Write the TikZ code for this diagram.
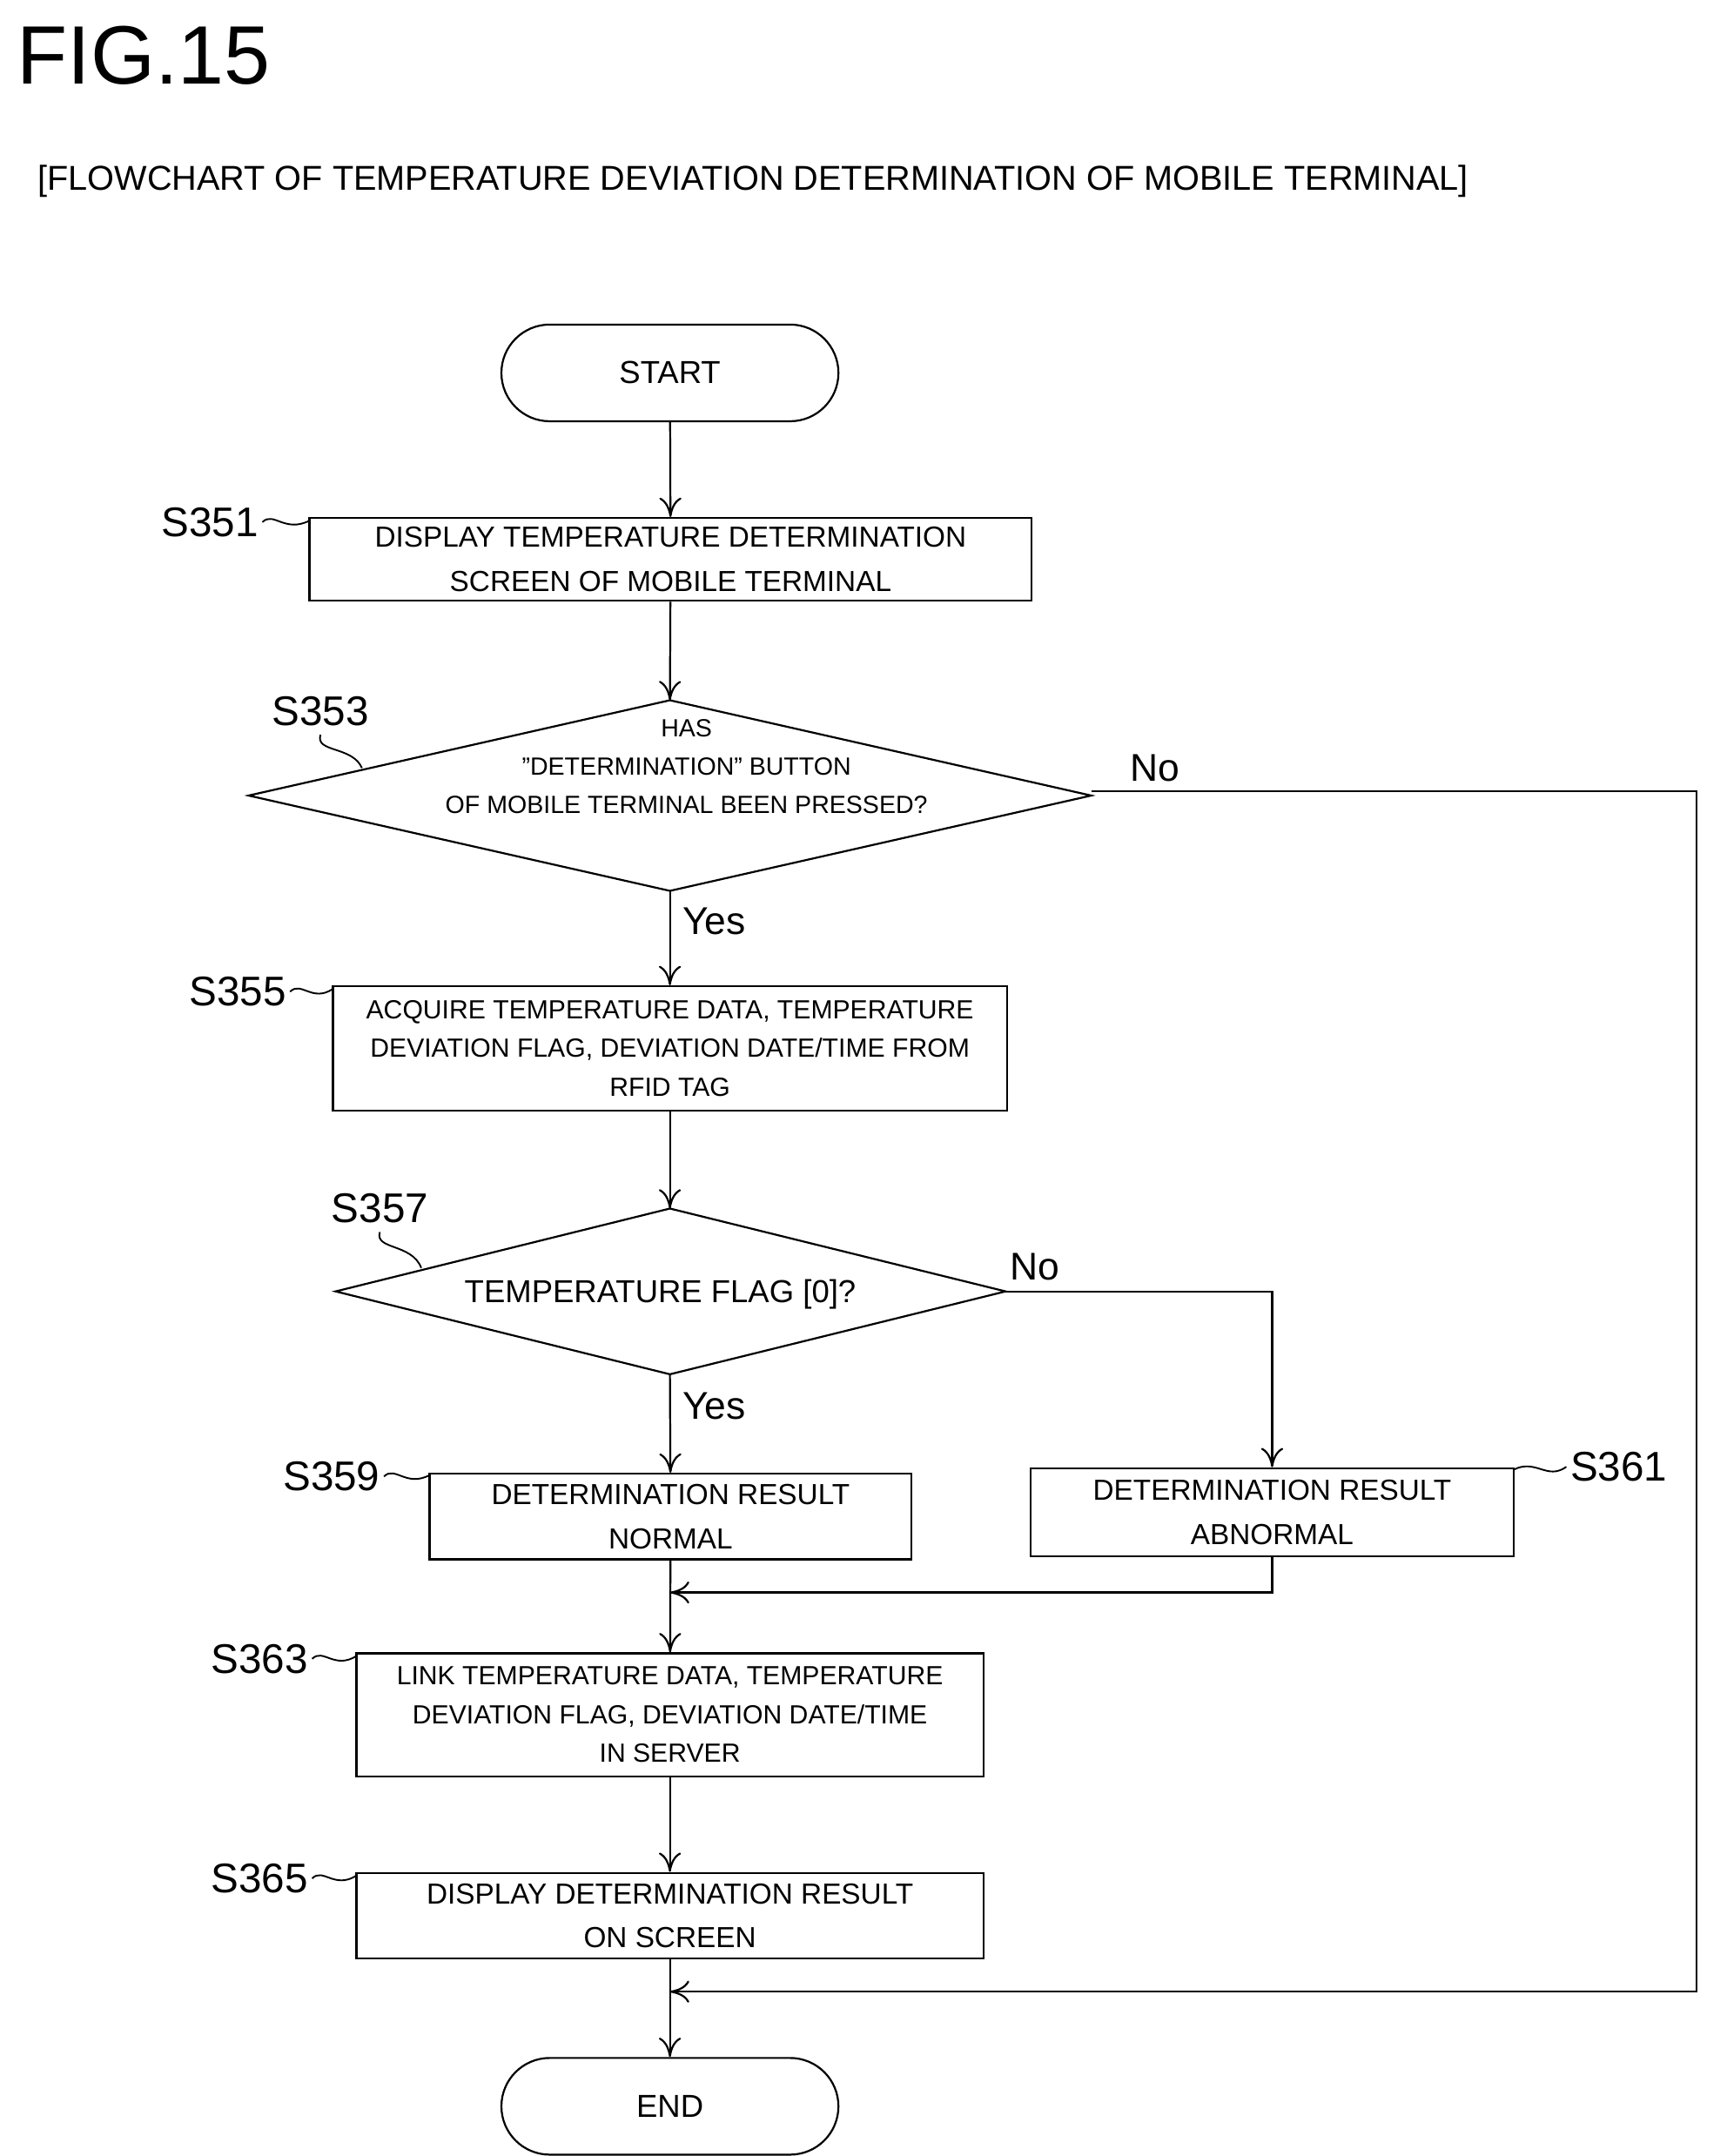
\documentclass[tikz,border=0pt]{standalone}
\usepackage{fontspec}
\setmainfont{Liberation Sans}
\usetikzlibrary{shapes.geometric,arrows.meta}
\begin{document}
\begin{tikzpicture}[x=0.5pt,y=-0.5pt,line width=0.7pt,
  box/.style={draw,rectangle,inner sep=0pt,align=center,font=\fontsize{10.5}{16}\selectfont},
  term/.style={draw,rounded corners=17.5pt,minimum width=122pt,minimum height=35pt,font=\fontsize{11.5}{14}\selectfont},
  dia/.style={draw,diamond,aspect=4.4,inner sep=0pt,align=center},
  arr/.style={-{To[length=7pt,width=8pt]}},
  lbl/.style={font=\fontsize{15}{18}\selectfont},
  yn/.style={font=\fontsize{14}{16}\selectfont}]
\useasboundingbox (0,0) rectangle (1250,1561);
\node[anchor=west,font=\fontsize{30}{34}\selectfont] at (5,40) {FIG.15};
\node[anchor=west,font=\fontsize{12.5}{15}\selectfont] at (20,131) {[FLOWCHART OF TEMPERATURE DEVIATION DETERMINATION OF MOBILE TERMINAL]};
\node[term] (start) at (485,270) {START};
\node[box,minimum width=261.5pt,minimum height=30pt] (s351) at (485.5,405) {DISPLAY TEMPERATURE DETERMINATION\\SCREEN OF MOBILE TERMINAL};
\draw[dia,minimum width=305pt,minimum height=69pt] (180,576) -- (485,507) -- (790,576) -- (485,645) -- cycle;
\node[align=center,font=\fontsize{9}{14}\selectfont] (s353) at (497,555) {HAS\\\char"201D DETERMINATION\char"201D{} BUTTON\\OF MOBILE TERMINAL BEEN PRESSED?};
\coordinate (d1t) at (485,507); \coordinate (d1b) at (485,645); \coordinate (d1r) at (790,573);
\node[box,minimum width=244pt,minimum height=45pt,font=\fontsize{9.5}{14}\selectfont] (s355) at (485,759) {ACQUIRE TEMPERATURE DATA, TEMPERATURE\\DEVIATION FLAG, DEVIATION DATE/TIME FROM\\RFID TAG};
\draw (243,935) -- (485,875) -- (728,935) -- (485,995) -- cycle;
\node[font=\fontsize{11.5}{14}\selectfont] (s357) at (478,937) {TEMPERATURE FLAG [0]?};
\coordinate (d2t) at (485,875); \coordinate (d2b) at (485,995); \coordinate (d2r) at (728,935);
\node[box,minimum width=174.5pt,minimum height=31pt] (s359) at (485.5,1098) {DETERMINATION RESULT\\NORMAL};
\node[box,minimum width=175pt,minimum height=32pt] (s361) at (921,1095) {DETERMINATION RESULT\\ABNORMAL};
\node[box,minimum width=227pt,minimum height=44.5pt,font=\fontsize{9.5}{14}\selectfont] (s363) at (485,1241.5) {LINK TEMPERATURE DATA, TEMPERATURE\\DEVIATION FLAG, DEVIATION DATE/TIME\\IN SERVER};
\node[box,minimum width=227pt,minimum height=31pt] (s365) at (485,1387) {DISPLAY DETERMINATION RESULT\\ON SCREEN};
\node[term] (end) at (485,1525) {END};
\coordinate (m1) at (485,1153); \coordinate (m2) at (485,1442);
\coordinate (r1) at (1228,573); \coordinate (r2) at (1228,1442);
\draw[arr] (start) -- (s351);
\draw[arr] (s351) -- (d1t);
\draw[arr] (d1b) -- (s355);
\draw[arr] (s355) -- (d2t);
\draw[arr] (d2b) -- (s359);
\draw[arr] (d2r) -| (s361);
\draw[arr] (s361.south) |- (m1);
\draw[arr] (s359) -- (s363);
\draw[arr] (s363) -- (s365);
\draw[arr] (s365) -- (end);
\draw[arr] (d1r) -- (r1) -- (r2) -- (m2);
\node[yn] at (836,556) {No};
\node[yn] at (517,667) {Yes};
\node[yn] at (749,917) {No};
\node[yn] at (517,1018) {Yes};
\tikzset{sq/.style={line width=0.6pt}}
\node[lbl] (l351) at (152,378) {S351};
\draw[sq] (190,378) .. controls (198,370) and (206,386) .. (224,377);
\node[lbl] (l353) at (232,515) {S353};
\draw[sq] (232,532) .. controls (228,545) and (255,540) .. (262,556);
\node[lbl] (l355) at (172,718) {S355};
\draw[sq] (210,718) .. controls (218,710) and (226,726) .. (241,716);
\node[lbl] (l357) at (275,875) {S357};
\draw[sq] (275,892) .. controls (271,905) and (298,900) .. (305,918);
\node[lbl] (l359) at (240,1069) {S359};
\draw[sq] (278,1069) .. controls (286,1061) and (294,1077) .. (311,1068);
\node[lbl] (l361) at (1172,1062) {S361};
\draw[sq] (1096,1064) .. controls (1112,1056) and (1120,1072) .. (1134,1062);
\node[lbl] (l363) at (188,1201) {S363};
\draw[sq] (226,1201) .. controls (234,1193) and (242,1209) .. (258,1199);
\node[lbl] (l365) at (188,1360) {S365};
\draw[sq] (226,1360) .. controls (234,1352) and (242,1368) .. (258,1358);
\end{tikzpicture}
\end{document}
